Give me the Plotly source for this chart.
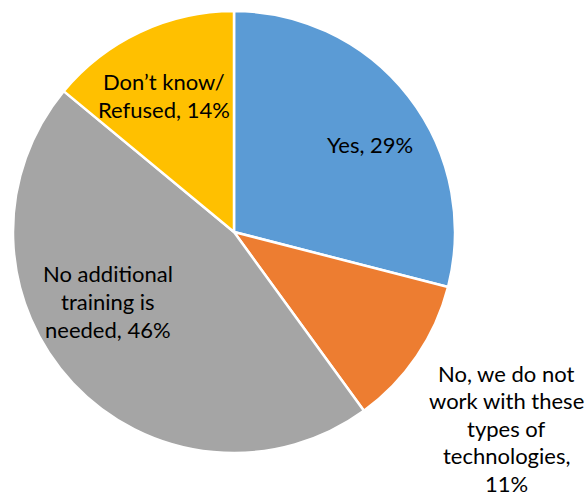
import plotly.graph_objects as go

categories = ["Yes", "No, we do not work with these types of technologies",
              "No additional training is needed", "Don’t know/ Refused"]
values = [29, 11, 46, 14]
colors = ["#5B9BD5", "#ED7D31", "#A5A5A5", "#FFC000"]
label_lines = [
    ["Yes, {v}%"],
    ["No, we do not", "work with these", "types of", "technologies,", "{v}%"],
    ["No additional", "training is", "needed, {v}%"],
    ["Don’t know/", "Refused, {v}%"],
]

W, H = 586, 499
cx, cy, r = 234, 232, 221

fig = go.Figure(go.Pie(
    labels=categories, values=values, sort=False, direction="clockwise",
    rotation=0, marker=dict(colors=colors, line=dict(color="white", width=2.5)),
    textinfo="none", hoverinfo="label+percent", showlegend=False,
    domain=dict(x=[(cx - r) / W, (cx + r) / W], y=[1 - (cy + r) / H, 1 - (cy - r) / H]),
))

# label layout (pixels): centre x, first line centre y, line spacing
label_pos = [(370, 144), (506, 373), (108, 273), (164, 81)]
gaps = [28, 27.5, 28, 28]
for lines, v, (px, py), g in zip(label_lines, values, label_pos, gaps):
    for i, l in enumerate(lines):
        yy = py + i * g
        fig.add_annotation(x=px / W, y=1 - yy / H, xref="paper", yref="paper",
                           text=l.format(v=v), showarrow=False, align="center",
                           xanchor="center", yanchor="middle", borderpad=0,
                           font=dict(family="Lato", size=22, color="black"))

fig.update_layout(width=W, height=H, margin=dict(l=0, r=0, t=0, b=0),
                  paper_bgcolor="white", plot_bgcolor="white")
fig.write_html("out.html", config={"displayModeBar": False},
               post_script="document.body.style.margin='0px';")
